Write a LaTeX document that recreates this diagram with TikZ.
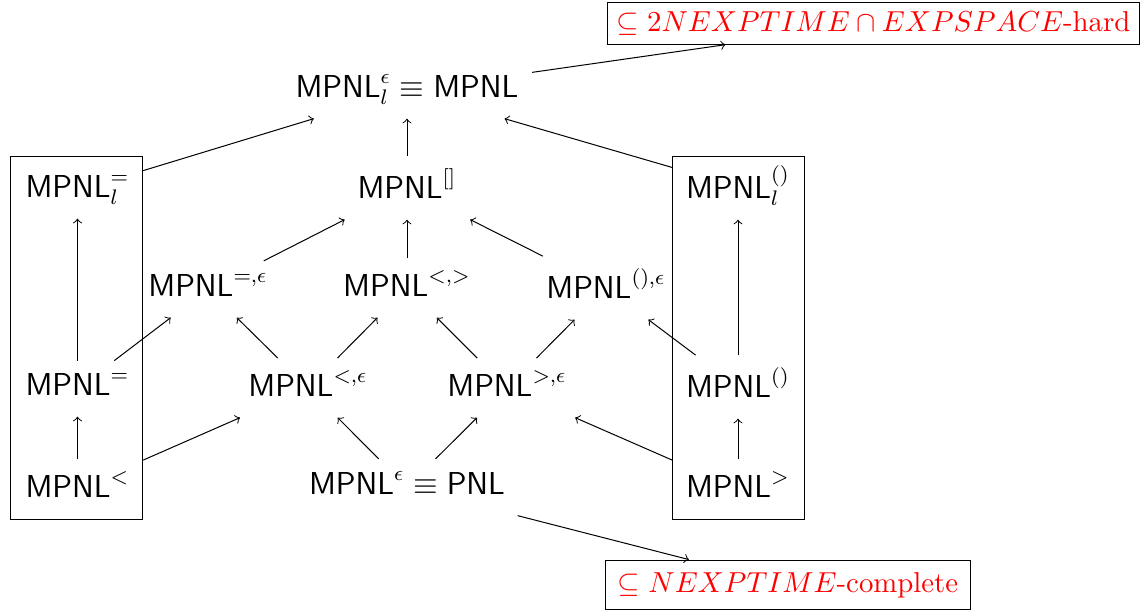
\documentclass[tikz,border=0pt]{standalone}
\usetikzlibrary{fit}
\begin{document}
\begin{tikzpicture}[x=0.3788pt,y=-0.3788pt,
  lg/.style={font=\large, inner xsep=5pt, inner ysep=4.5pt, text depth=3.5pt, anchor=base},
  cx/.style={draw, text=red, inner sep=3.3pt, font=\fontsize{10.9}{13}\selectfont},
  frame/.style={draw, inner sep=0pt, line width=0.38pt},
  arr/.style={->, line width=0.38pt}]
\useasboundingbox (0,0) rectangle (1148,612);
% top
\node[lg] (top) at (407,97) {$\mathsf{MPNL}^{\epsilon}_{l} \equiv \mathsf{MPNL}$};
\node[lg] (br) at (407,198) {$\mathsf{MPNL}^{[]}$};
% row 3
\node[lg] (eqe) at (208,296) {$\mathsf{MPNL}^{=,\epsilon}$};
\node[lg] (ltgt) at (407,296) {$\mathsf{MPNL}^{<,>}$};
\node[lg] (pae) at (606,298) {$\mathsf{MPNL}^{(),\epsilon}$};
% row 4
\node[lg] (lte) at (308,396) {$\mathsf{MPNL}^{<,\epsilon}$};
\node[lg] (gte) at (507,396) {$\mathsf{MPNL}^{>,\epsilon}$};
% bottom
\node[lg] (pnl) at (407,494) {$\mathsf{MPNL}^{\epsilon} \equiv \mathsf{PNL}$};
% left column
\node[lg] (leql) at (77.5,197) {$\mathsf{MPNL}^{=}_{l}$};
\node[lg] (leq) at (77.5,395) {$\mathsf{MPNL}^{=}$};
\node[lg] (llt) at (77.5,497) {$\mathsf{MPNL}^{<}$};
% right column
\node[lg] (rpal) at (738,198) {$\mathsf{MPNL}^{()}_{l}$};
\node[lg] (rpa) at (738,397) {$\mathsf{MPNL}^{()}$};
\node[lg] (rgt) at (738,497) {$\mathsf{MPNL}^{>}$};
% boxes
\coordinate (lb1) at (10.5,156.5);
\coordinate (lb2) at (142.5,519.5);
\coordinate (rb1) at (672.5,156.5);
\coordinate (rb2) at (804.5,519.5);
\node[frame, fit=(lb1)(lb2)] (lbox) {};
\node[frame, fit=(rb1)(rb2)] (rbox) {};
% complexity labels
\node[cx] (c1) at (873.5,23.5) {$\subseteq 2NEXPTIME \cap EXPSPACE$-hard};
\node[cx, inner xsep=4.8pt, inner ysep=4.6pt] (c2) at (788,585) {$\subseteq NEXPTIME$-complete};
% arrows
\draw[arr] (leql) -- (top);
\draw[arr] (br) -- (top);
\draw[arr] (rpal) -- (top);
\draw[arr] (top) -- (c1);
\draw[arr] (eqe) -- (br);
\draw[arr] (ltgt) -- (br);
\draw[arr] (pae) -- (br);
\draw[arr] (leq) -- (leql);
\draw[arr] (llt) -- (leq);
\draw[arr] (rpa) -- (rpal);
\draw[arr] (rgt) -- (rpa);
\draw[arr] (leq) -- (eqe);
\draw[arr] (lte) -- (eqe);
\draw[arr] (lte) -- (ltgt);
\draw[arr] (gte) -- (ltgt);
\draw[arr] (gte) -- (pae);
\draw[arr] (rpa) -- (pae);
\draw[arr] (llt) -- (lte);
\draw[arr] (pnl) -- (lte);
\draw[arr] (pnl) -- (gte);
\draw[arr] (rgt) -- (gte);
\draw[arr] (pnl) -- (c2);
\end{tikzpicture}
\end{document}
